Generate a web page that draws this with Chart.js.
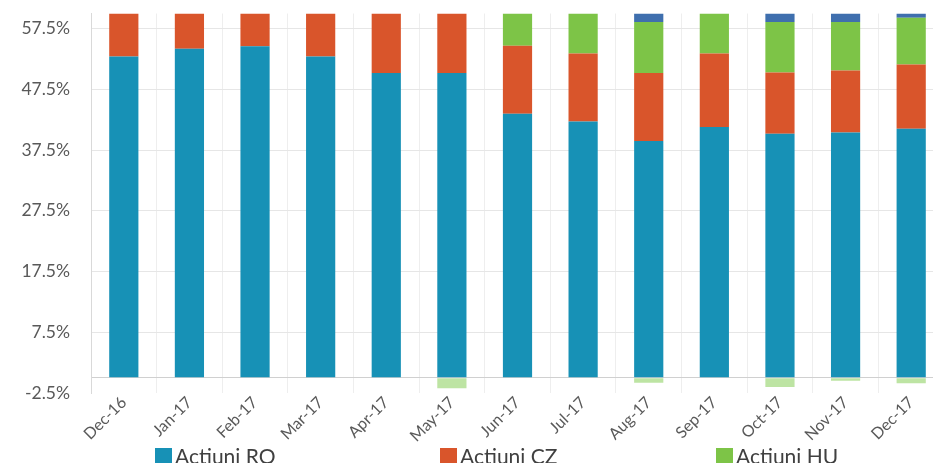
<html>
  <head>
    <title>Actiuni</title>
    <script type="text/javascript" src="https://cdn.jsdelivr.net/npm/chart.js@4/dist/chart.umd.min.js"></script>
    <style>
      body { margin: 0; overflow: hidden; background: #fff; }
      #wrap { position: relative; width: 933px; height: 463px; overflow: hidden; }
      .lg { position: absolute; top: 444px; font: 21px Lato, sans-serif; color: #404040; white-space: nowrap; line-height: 24px; }
      .lg span { display: inline-block; width: 17px; height: 17px; margin-right: 3px; vertical-align: -1px; }
    </style>
  </head>
  <body>
    <div id="wrap">
      <canvas id="ActiuniChart" width="944" height="463" style="display: block;"></canvas>
    </div>
    <script>
      var categories = ['Dec-16', 'Jan-17', 'Feb-17', 'Mar-17', 'Apr-17', 'May-17', 'Jun-17',
                        'Jul-17', 'Aug-17', 'Sep-17', 'Oct-17', 'Nov-17', 'Dec-17'];
      var actiuniRO = [52.9, 54.2, 54.6, 52.9, 50.2, 50.2, 43.5, 42.2, 39.0, 41.3, 40.2, 40.4, 41.0];
      var actiuniCZ = [7.1, 5.8, 5.4, 7.1, 9.8, 9.8, 11.2, 11.2, 11.2, 12.1, 10.1, 10.2, 10.6];
      var actiuniHU = [0, 0, 0, 0, 0, 0, 5.3, 6.6, 8.4, 6.6, 8.3, 8.0, 7.7];
      // top sliver (dark blue) and the pale green part under zero, not named in the visible legend
      var alteActiuni = [0, 0, 0, 0, 0, 0, 0, 0, 1.4, 0, 1.4, 1.4, 0.7];
      var sub0 = [0, 0, 0, 0, 0, -1.7, 0, 0, -0.8, 0, -1.5, -0.5, -0.9];
      var yTicks = [-2.5, 7.5, 17.5, 27.5, 37.5, 47.5, 57.5];

      var ctx = document.getElementById('ActiuniChart').getContext('2d');
      var chart = new Chart(ctx, {
        type: 'bar',
        data: {
          labels: categories,
          datasets: [
            { label: 'Actiuni RO', backgroundColor: '#1791b6', data: actiuniRO },
            { label: 'Actiuni CZ', backgroundColor: '#d9552b', data: actiuniCZ },
            { label: 'Actiuni HU', backgroundColor: '#7dc447', data: actiuniHU },
            { label: 'Alte', backgroundColor: '#3f6fae', data: alteActiuni, hideLegend: true },
            { label: 'Sub zero', backgroundColor: '#bde4a3', data: sub0, hideLegend: true }
          ]
        },
        options: {
          responsive: false,
          animation: false,
          categoryPercentage: 1,
          barPercentage: 0.445,
          layout: { padding: { top: 2, right: 0, left: 0, bottom: 0 } },
          plugins: { legend: { display: false }, tooltip: { enabled: false } },
          scales: {
            x: {
              stacked: true,
              afterFit: function(s) { s.height = 70; },
              grid: { color: '#eeeeee', drawTicks: false, offset: true },
              border: { display: false },
              ticks: {
                minRotation: 45, maxRotation: 45, autoSkip: false, padding: 0,
                color: '#595959', font: { family: 'Lato', size: 16 }
              }
            },
            y: {
              stacked: true,
              min: -2.5,
              max: 60,
              afterFit: function(s) { s.width = 91; },
              afterBuildTicks: function(s) {
                s.ticks = yTicks.concat([0]).map(function(v) { return { value: v }; });
              },
              grid: {
                drawTicks: true,
                tickLength: 18,
                tickColor: 'transparent',
                color: function(c) {
                  if (!c.tick) return 'transparent';
                  if (c.tick.value === 0) return '#d0d0d0';
                  if (c.tick.value === -2.5) return 'transparent';
                  return '#e6e6e6';
                }
              },
              border: { display: true, color: '#d9d9d9' },
              ticks: {
                padding: 3,
                color: '#595959',
                font: { family: 'Lato', size: 17.5 },
                callback: function(v) { return v === 0 ? '' : v.toFixed(1) + '%'; }
              }
            }
          }
        }
      });

      // legend drawn as html, spread out like in the original
      var legendX = [155, 440, 716];
      var wrap = document.getElementById('wrap');
      chart.data.datasets.filter(function(d) { return !d.hideLegend; }).forEach(function(d, i) {
        var el = document.createElement('div');
        el.className = 'lg';
        el.style.left = legendX[i] + 'px';
        el.innerHTML = '<span style="background:' + d.backgroundColor + '"></span>' + d.label;
        wrap.appendChild(el);
      });
    </script>
  </body>
</html>
